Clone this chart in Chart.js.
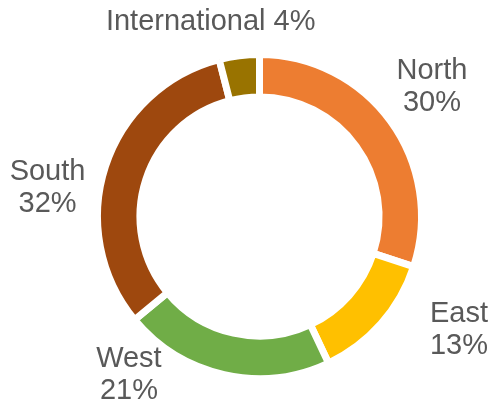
<!DOCTYPE html>
<html>
<head>
<meta charset="utf-8" />
<style>
  html, body { margin: 0; padding: 0; background: #fff; }
  #wrap { width: 496px; height: 411px; }
</style>
</head>
<body>
<div id="wrap"><canvas id="chart" width="496" height="411"></canvas></div>
<script src="https://cdn.jsdelivr.net/npm/chart.js@4"></script>
<script>
const regions = ['North', 'East', 'West', 'South', 'International'];
const shares = [30, 13, 21, 32, 4];
const colors = ['#ED7D31', '#FFC000', '#70AD47', '#9E480E', '#997300'];

// labels were placed by hand in the original; shift (deg) from slice middle, distance as share of radius
const labelLayout = [
  { shift: -0.9, dist: 1.331, oneLine: false },
  { shift: -11.8, dist: 1.416, oneLine: false },
  { shift: 26.8, dist: 1.270, oneLine: false },
  { shift: -10.4, dist: 1.320, oneLine: false },
  { shift: -6.9, dist: 1.236, oneLine: true }
];

const total = shares.reduce((a, b) => a + b, 0);

const outsideLabels = {
  id: 'outsideLabels',
  afterDatasetsDraw(chart) {
    const ctx = chart.ctx;
    const meta = chart.getDatasetMeta(0);
    ctx.save();
    ctx.font = '29px "Liberation Sans", Arial, sans-serif';
    ctx.fillStyle = '#595959';
    ctx.textAlign = 'center';
    ctx.textBaseline = 'middle';
    meta.data.forEach((arc, i) => {
      const { x, y, startAngle, endAngle, outerRadius } = arc.getProps(['x', 'y', 'startAngle', 'endAngle', 'outerRadius'], true);
      const lay = labelLayout[i];
      const a = (startAngle + endAngle) / 2 + lay.shift * Math.PI / 180;
      const d = outerRadius * lay.dist;
      const cx = x + Math.cos(a) * d;
      const cy = y + Math.sin(a) * d;
      const pct = Math.round(shares[i] / total * 100) + '%';
      const lines = lay.oneLine ? [regions[i] + ' ' + pct] : [regions[i], pct];
      const lh = 32;
      lines.forEach((t, k) => {
        ctx.fillText(t, cx, cy + (k - (lines.length - 1) / 2) * lh);
      });
    });
    ctx.restore();
  }
};

new Chart(document.getElementById('chart'), {
  type: 'doughnut',
  data: {
    labels: regions,
    datasets: [{
      data: shares,
      backgroundColor: colors,
      borderColor: '#ffffff',
      borderWidth: 7,
      hoverOffset: 0
    }]
  },
  options: {
    responsive: false,
    animation: false,
    cutout: '73.8%',
    layout: { padding: { left: 94, right: 71, top: 51, bottom: 29 } },
    plugins: {
      legend: { display: false },
      tooltip: { enabled: false }
    }
  },
  plugins: [outsideLabels]
});
</script>
</body>
</html>
